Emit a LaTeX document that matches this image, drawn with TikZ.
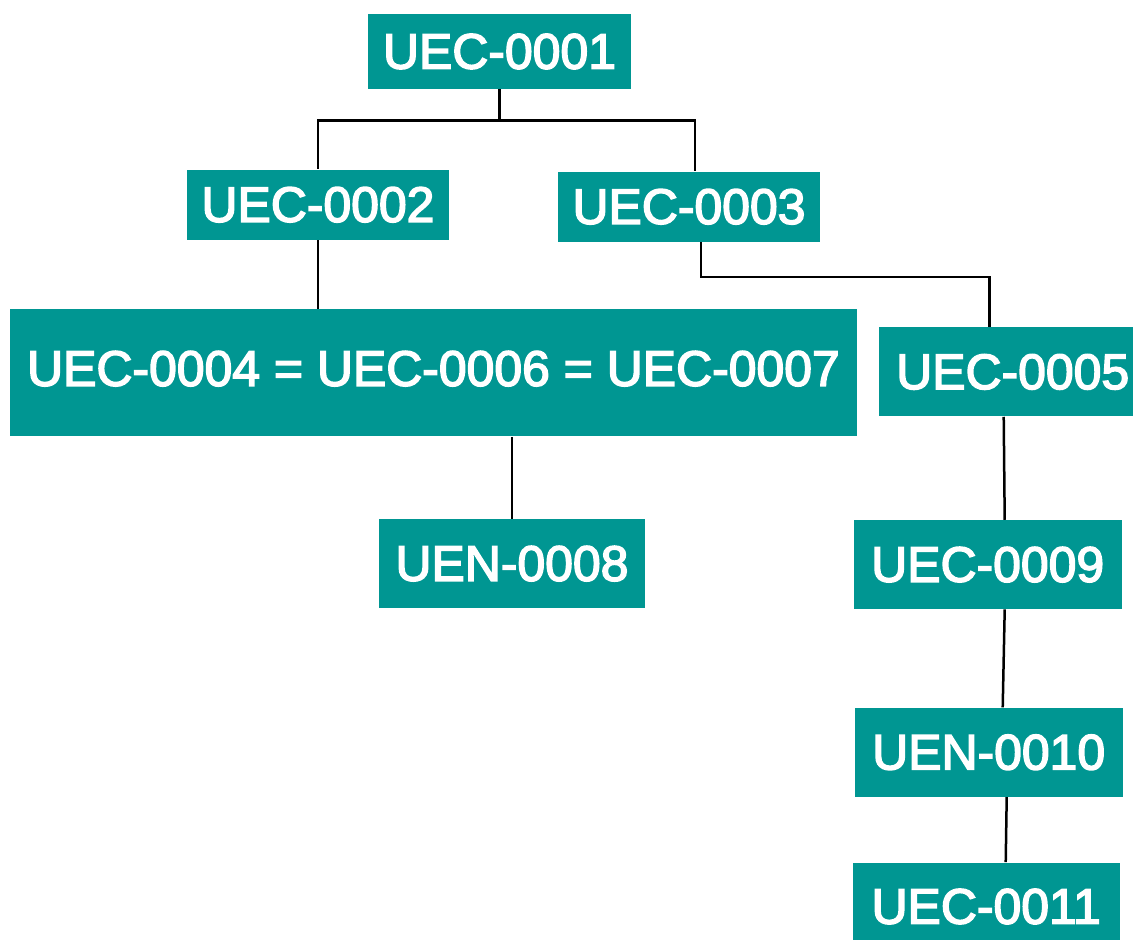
\documentclass[tikz,border=0pt]{standalone}
\usepackage{fontspec}
\setmainfont{Liberation Sans}
\newfontfamily\boxfont[FakeBold=3]{Liberation Sans}
\usepackage{tikz}
\usetikzlibrary{positioning}
\definecolor{tealbox}{RGB}{0,150,146}
\tikzset{
  line/.style={line width=0.5mm, black},
  box/.style={fill=tealbox, text=white, inner sep=0pt, align=center,
    font=\boxfont\fontsize{28.4pt}{32pt}\selectfont, minimum width=53.6mm, minimum height=17.8mm},
  topbox/.style={box, minimum width=52.6mm, minimum height=15mm},
  lowbox/.style={box, minimum width=52.4mm, minimum height=14mm},
  widebox/.style={box, minimum width=169.4mm, minimum height=25.4mm, text depth=1.8mm}
}
\begin{document}
\begin{tikzpicture}
  \useasboundingbox (0,0) rectangle (226.6mm,-188mm);
  \node[topbox] (u1) at (99.9mm,-10.3mm) {UEC-0001};
  \node[lowbox, below=16mm of u1, xshift=-36.3mm] (u2) {UEC-0002};
  \node[lowbox, below=16.4mm of u1, xshift=37.9mm] (u3) {UEC-0003};
  \node[widebox, below=13.8mm of u2, xshift=23.1mm] (ueq) {UEC-0004 = UEC-0006 = UEC-0007};
  \node[box, right=4.2mm of ueq, yshift=0.2mm] (u5) {UEC-0005};
  \node[box, minimum width=53.2mm, below=16.4mm of ueq, xshift=15.7mm] (u8) {UEN-0008};
  \node[box, below=20.6mm of u5, xshift=-5mm] (u9) {UEC-0009};
  \node[box, below=19.6mm of u9, xshift=0.2mm] (u10) {UEN-0010};
  \node[box, minimum width=53.4mm, minimum height=17.6mm, below=13mm of u10, xshift=-0.5mm] (u11) {UEC-0011};

  \draw[line] (u1.south) -- ++(0,-6.2mm) -| (u2.north);
  \draw[line] (u1.south) -- ++(0,-6.2mm) -| ([xshift=1.2mm]u3.north);
  \draw[line] (u2.south) -- (u2.south |- ueq.north);
  \draw[line] ([xshift=2.4mm]u3.south) -- ++(0,-7mm) -| ([xshift=-4.6mm]u5.north);
  \draw[line] (u8.north |- ueq.south) -- (u8.north);
  \draw[line] ([xshift=-1.8mm]u5.south) -- ([xshift=3.4mm]u9.north);
  \draw[line] ([xshift=3.4mm]u9.south) -- ([xshift=2.8mm]u10.north);
  \draw[line] ([xshift=3.6mm]u10.south) -- ([xshift=3.9mm]u11.north);
\end{tikzpicture}
\end{document}
